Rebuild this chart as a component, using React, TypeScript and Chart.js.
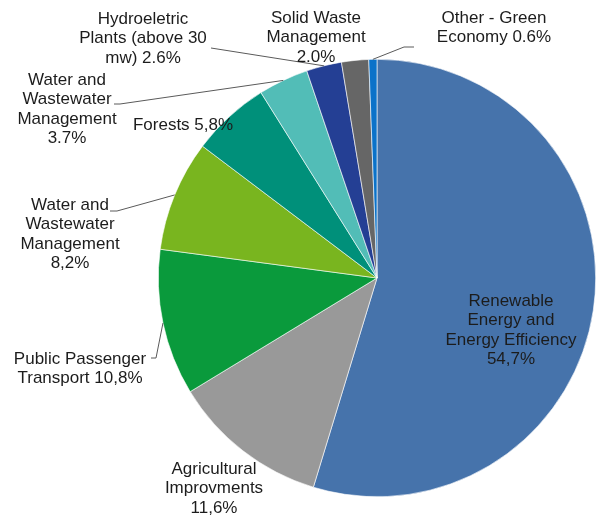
import React, { useEffect, useRef } from "react";
import { Chart, registerables } from "chart.js";

Chart.register(...registerables);

// ---- data ----
const categories = [
  "Renewable Energy and Energy Efficiency",
  "Agricultural Improvments",
  "Public Passenger Transport",
  "Water and Wastewater Management",
  "Forests",
  "Water and Wastewater Management",
  "Hydroeletric Plants (above 30 mw)",
  "Solid Waste Management",
  "Other - Green Economy",
];
const values = [54.7, 11.6, 10.8, 8.2, 5.8, 3.7, 2.6, 2.0, 0.6];
const decimalMarks = [",", ",", ",", ",", ",", ".", ".", ".", "."];
const colors = [
  "#4673AB",
  "#999999",
  "#0A9A3C",
  "#79B51F",
  "#00907A",
  "#52BDB7",
  "#243F94",
  "#666666",
  "#0B72C9",
];

// ---- label layout (display only) ----
type LabelLayout = {
  lines: string[];
  x: number;
  y: number;
  leader?: [number, number][];
};
const labelLayout: LabelLayout[] = [
  { lines: ["Renewable", "Energy and", "Energy Efficiency", "{v}"], x: 511, y: 301 },
  { lines: ["Agricultural", "Improvments", "{v}"], x: 214, y: 469 },
  { lines: ["Public Passenger", "Transport {v}"], x: 80, y: 359, leader: [[151, 358], [156, 358]] },
  { lines: ["Water and", "Wastewater", "Management", "{v}"], x: 70, y: 205, leader: [[110, 211], [117, 211]] },
  { lines: ["Forests {v}"], x: 183, y: 125 },
  { lines: ["Water and", "Wastewater", "Management", "{v}"], x: 67, y: 80, leader: [[114, 104], [120, 104]] },
  { lines: ["Hydroeletric", "Plants (above 30", "mw) {v}"], x: 143, y: 19, leader: [[211, 48]] },
  { lines: ["Solid Waste", "Management", "{v}"], x: 316, y: 18 },
  { lines: ["Other - Green", "Economy {v}"], x: 494, y: 18, leader: [[414, 47], [404, 47]] },
];
const LINE_HEIGHT = 19.5;
const FONT = '17px "Liberation Sans", Arial, sans-serif';

const labelPlugin = {
  id: "pieLabels",
  afterDraw(chart: any) {
    const ctx = chart.ctx as CanvasRenderingContext2D;
    const meta = chart.getDatasetMeta(0);
    ctx.save();
    // leader lines
    ctx.strokeStyle = "#5a5a5a";
    ctx.lineWidth = 1;
    meta.data.forEach((arc: any, i: number) => {
      const lay = labelLayout[i];
      if (!lay || !lay.leader) return;
      const p = arc.getProps(["x", "y", "startAngle", "endAngle", "outerRadius"], true);
      const mid = (p.startAngle + p.endAngle) / 2;
      const ex = p.x + Math.cos(mid) * p.outerRadius;
      const ey = p.y + Math.sin(mid) * p.outerRadius;
      ctx.beginPath();
      lay.leader.forEach(([lx, ly], k) => {
        if (k === 0) ctx.moveTo(lx, ly);
        else ctx.lineTo(lx, ly);
      });
      ctx.lineTo(ex, ey);
      ctx.stroke();
    });
    // texts
    ctx.font = FONT;
    ctx.fillStyle = "#1c1c1c";
    ctx.textAlign = "center";
    ctx.textBaseline = "middle";
    labelLayout.forEach((lay, i) => {
      const v = values[i].toFixed(1).replace(".", decimalMarks[i]) + "%";
      lay.lines.forEach((line, k) => {
        ctx.fillText(line.replace("{v}", v), lay.x, lay.y + k * LINE_HEIGHT);
      });
    });
    ctx.restore();
  },
};

export default function App() {
  const ref = useRef<HTMLCanvasElement | null>(null);
  useEffect(() => {
    if (!ref.current) return;
    const chart = new Chart(ref.current, {
      type: "pie",
      data: {
        labels: categories,
        datasets: [
          {
            data: values,
            backgroundColor: colors,
            borderColor: "#ffffff",
            borderWidth: 0.6,
          },
        ],
      },
      options: {
        responsive: false,
        animation: false,
        layout: { padding: { left: 158, right: 7, top: 59, bottom: 20 } },
        plugins: {
          legend: { display: false },
          tooltip: { enabled: false },
          title: { display: false },
        },
      },
      plugins: [labelPlugin],
    });
    return () => chart.destroy();
  }, []);
  return (
    <div style={{ position: "absolute", left: 0, top: 0, width: 603, height: 517, background: "#ffffff" }}>
      <canvas ref={ref} width={603} height={517} />
    </div>
  );
}
